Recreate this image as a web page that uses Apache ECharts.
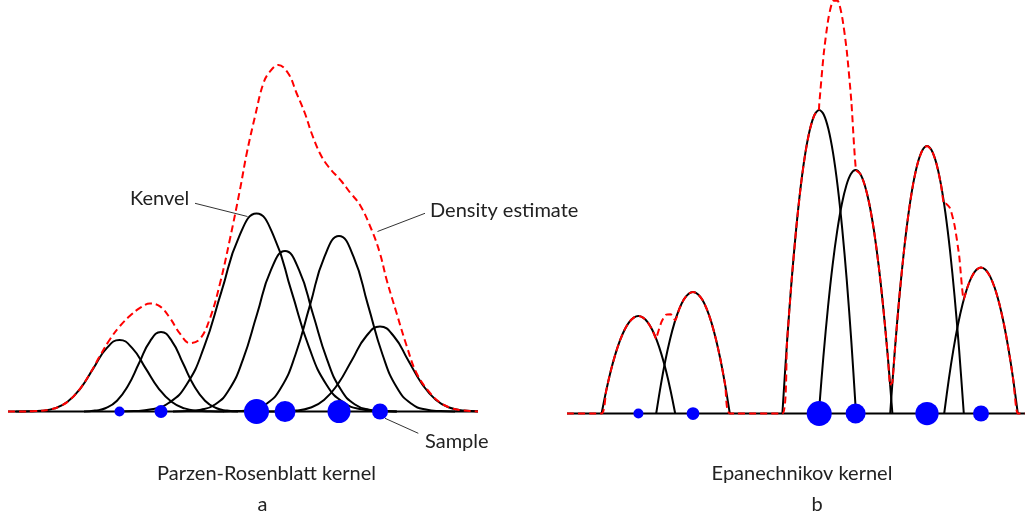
<!DOCTYPE html>
<html><head><meta charset="utf-8">
<script src="https://cdn.jsdelivr.net/npm/echarts@6/dist/echarts.min.js"></script>
<style>html,body{margin:0;padding:0;background:#fff}#c{width:1028px;height:518px}</style>
</head><body><div id="c"></div>
<script>
// ---------- Panel a : Parzen-Rosenblatt (Gaussian) kernels ----------
const parzenSampleX = [119.5, 161, 256.5, 285, 339, 380];
const parzenSampleWeight = [0.4, 0.52, 1.0, 0.84, 0.92, 0.64];
const parzenBaseline = [8, 478];
const parzenKernel1 = [[15.5,0],[28.5,0.2],[41.5,0.8],[54.5,3.1],[67.5,9.7],[80.5,23.2],[93.5,43.4],[106.5,63.1],[119.5,71.5],[132.5,63.1],[145.5,43.4],[158.5,23.2],[171.5,9.7],[184.5,3.1],[197.5,0.8],[210.5,0.2],[223.5,0]];
const parzenKernel2 = [[84,0],[95,0.9],[106,3.5],[117,10.8],[128,25.8],[139,48.2],[150,70.2],[161,79.5],[172,70.2],[183,48.2],[194,25.8],[205,10.8],[216,3.5],[227,0.9],[238,0]];
const parzenKernel3 = [[116.5,0],[134,0.4],[151.5,2.2],[169,8.7],[186.5,26.8],[204,64.3],[221.5,120.1],[239,174.7],[256.5,198],[274,174.7],[291.5,120.1],[309,64.3],[326.5,26.8],[344,8.7],[361.5,2.2],[379,0.4],[396.5,0]];
const parzenKernel4 = [[173,0],[187,0.4],[201,1.8],[215,7.0],[229,21.7],[243,52.1],[257,97.3],[271,141.6],[285,160.5],[299,141.6],[313,97.3],[327,52.1],[341,21.7],[355,7.0],[369,1.8],[383,0.4],[397,0]];
const parzenKernel5 = [[223,0],[237.5,0.4],[252,1.9],[266.5,7.7],[281,23.7],[295.5,57.0],[310,106.4],[324.5,154.9],[339,175.5],[353.5,154.9],[368,106.4],[382.5,57.0],[397,23.7],[411.5,7.7],[426,1.9],[440.5,0.4],[455,0]];
const parzenKernel6 = [[268,0],[282,0.2],[296,0.9],[310,3.7],[324,11.5],[338,27.6],[352,51.6],[366,75.0],[380,85],[394,75.0],[408,51.6],[422,27.6],[436,11.5],[450,3.7],[464,0.9],[478,0.2]];
const parzenDensity = [[8,0],[20,0.05],[35,0.4],[50,2.0],[60,5.2],[70,11.7],[80,22.7],[90,37.9],[100,55.7],[110,72.3],[120,85.5],[130,95.7],[140,103.6],[150,108],[160,105.1],[170,93.4],[180,77.8],[190,68.3],[200,72.5],[210,93.2],[220,128],[230,172.7],[240,222],[246.7,258],[255,295],[263.3,328],[270,340],[278.3,346.5],[288.3,338],[296.7,318],[305,298],[311.7,278],[320,258],[328.3,245],[341.7,230],[350,219],[360,206.5],[371.7,181.5],[380,158],[386.7,131.5],[396.7,98],[406.7,65.5],[416.7,38],[430,18.6],[440,9],[450,3.8],[460,1.4],[470,0.5],[478,0]];

// ---------- Panel b : Epanechnikov kernels ----------
const epanSampleX = [638.4, 693, 819.2, 855.6, 927, 981];
const epanSampleWeight = [0.4, 0.51, 1.0, 0.8, 0.93, 0.64];
const epanBaseline = [567, 1025];
const epanKernel1 = [[601.6,0],[606.2,22.8],[610.8,42.7],[615.4,59.4],[620.0,73.1],[624.6,83.8],[629.2,91.4],[633.8,95.9],[638.4,97.5],[643.0,95.9],[647.6,91.4],[652.2,83.8],[656.8,73.1],[661.4,59.4],[666.0,42.7],[670.6,22.8],[675.2,0]];
const epanKernel2 = [[656.2,0],[660.8,28.4],[665.4,53.2],[670.0,74.0],[674.6,91.1],[679.2,104.4],[683.8,113.9],[688.4,119.6],[693.0,121.5],[697.6,119.6],[702.2,113.9],[706.8,104.4],[711.4,91.1],[716.0,74.0],[720.6,53.2],[725.2,28.4],[729.8,0]];
const epanKernel3 = [[782.4,0],[787.0,71.1],[791.6,132.8],[796.2,184.9],[800.8,227.6],[805.4,260.8],[810.0,284.5],[814.6,298.8],[819.2,303.5],[823.8,298.8],[828.4,284.5],[833.0,260.8],[837.6,227.6],[842.2,184.9],[846.8,132.8],[851.4,71.1],[856.0,0]];
const epanKernel4 = [[818.8,0],[823.4,57.0],[828.0,106.5],[832.6,148.4],[837.2,182.6],[841.8,209.3],[846.4,228.3],[851.0,239.7],[855.6,243.5],[860.2,239.7],[864.8,228.3],[869.4,209.3],[874.0,182.6],[878.6,148.4],[883.2,106.5],[887.8,57.0],[892.4,0]];
const epanKernel5 = [[890.2,0],[894.8,62.7],[899.4,117.0],[904.0,163.0],[908.6,200.6],[913.2,229.9],[917.8,250.8],[922.4,263.3],[927.0,267.5],[931.6,263.3],[936.2,250.8],[940.8,229.9],[945.4,200.6],[950.0,163.0],[954.6,117.0],[959.2,62.7],[963.8,0]];
const epanKernel6 = [[944.2,0],[948.8,34.2],[953.4,63.9],[958.0,89.0],[962.6,109.5],[967.2,125.5],[971.8,136.9],[976.4,143.7],[981.0,146],[985.6,143.7],[990.2,136.9],[994.8,125.5],[999.4,109.5],[1004.0,89.0],[1008.6,63.9],[1013.2,34.2],[1017.8,0]];
const epanDensity = [[567,0],[601.6,0],[606.2,22.8],[610.8,42.7],[615.4,59.4],[620,73.1],[624.6,83.8],[629.2,91.4],[633.8,95.9],[638.4,97.5],[643,95.9],[647.6,91.4],[652.2,83.8],[656.2,74.7],[656.8,77.0],[661.4,91.3],[666,98.8],[670.6,99.3],[675.2,93.1],[679.2,104.4],[683.8,113.9],[688.4,119.6],[693,121.5],[697.6,119.6],[702.2,113.9],[706.8,104.4],[711.4,91.1],[716,74.0],[720.6,53.2],[725.2,28.4],[729.8,0],[782.4,0],[787,71.1],[791.6,132.8],[796.2,184.9],[800.8,227.6],[805.4,260.8],[810,284.5],[814.6,298.8],[818.8,303.5],[819.2,308.8],[823.8,360.5],[828.4,395.0],[833,412.5],[837.6,412.8],[842.2,396.1],[846.8,362.4],[851.4,311.4],[856,243.5],[860.2,239.7],[864.8,228.3],[869.4,209.3],[874,182.6],[878.6,148.4],[883.2,106.5],[887.8,57.0],[890.2,28.2],[891.3,30.1],[892.4,31.0],[894.8,62.7],[899.4,117.0],[904,163.0],[908.6,200.6],[913.2,229.9],[917.8,250.8],[922.4,263.3],[927,267.5],[931.6,263.3],[936.2,250.8],[940.8,229.9],[944.2,209.1],[945.4,210.0],[950,205.4],[954.6,187.9],[959.2,157.5],[963.8,114.1],[967.2,125.5],[971.8,136.9],[976.4,143.7],[981,146],[985.6,143.7],[990.2,136.9],[994.8,125.5],[999.4,109.5],[1004,89.0],[1008.6,63.9],[1013.2,34.2],[1017.8,0],[1025,0]];

// annotation leader lines (data coordinates of panel a)
const kenvelLeader = [[195, 208.2], [247.5, 195]];
const densityLeader = [[425, 198.2], [377.5, 180]];
const sampleLeader = [[385, -6.8], [418.3, -21.8]];

const FONT = 'Lato, "Open Sans", sans-serif';
const TEXT_COLOR = '#222';

function lineSeries(idx, data, color, width, dashed, smooth, z) {
  return {
    type: 'line', xAxisIndex: idx, yAxisIndex: idx, data: data,
    symbol: 'none', showSymbol: false, smooth: smooth, clip: false, silent: true, z: z,
    lineStyle: { color: color, width: width, type: dashed ? [7, 4] : 'solid', cap: 'butt', join: 'round' }
  };
}
function dotSeries(idx, xs, weights) {
  return {
    type: 'scatter', xAxisIndex: idx, yAxisIndex: idx, clip: false, silent: true, z: 10,
    data: xs.map(x => [x, 0]),
    symbol: 'circle',
    symbolSize: (v, p) => 25 * weights[p.dataIndex],
    itemStyle: { color: '#0000FF', opacity: 1 }
  };
}

const series = [];
// panel a
series.push(lineSeries(0, parzenBaseline.map(x => [x, 0]), '#000', 2, false, false, 1));
[parzenKernel1, parzenKernel2, parzenKernel3, parzenKernel4, parzenKernel5, parzenKernel6]
  .forEach(k => series.push(lineSeries(0, k, '#000', 2, false, 0.5, 2)));
series.push(lineSeries(0, parzenDensity, '#FF0000', 2, true, 0.4, 3));
series.push(dotSeries(0, parzenSampleX, parzenSampleWeight));
[kenvelLeader, densityLeader, sampleLeader].forEach(l => series.push(lineSeries(0, l, '#333', 1, false, false, 4)));
// panel b
series.push(lineSeries(1, epanBaseline.map(x => [x, 0]), '#000', 2, false, false, 1));
[epanKernel1, epanKernel2, epanKernel3, epanKernel4, epanKernel5, epanKernel6]
  .forEach(k => series.push(lineSeries(1, k, '#000', 2, false, 0.3, 2)));
series.push(lineSeries(1, epanDensity, '#FF0000', 2, true, 0.2, 3));
series.push(dotSeries(1, epanSampleX, epanSampleWeight));

function txt(text, x, y, align) {
  return { type: 'text', x: x, y: y, silent: true, z: 20,
    style: { text: text, font: '20px ' + FONT, fill: TEXT_COLOR, textAlign: align, textVerticalAlign: 'middle' } };
}

const chart = echarts.init(document.getElementById('c'), null, { renderer: 'canvas' });
chart.setOption({
  animation: false,
  backgroundColor: '#fff',
  grid: [
    { left: 0, top: 0, width: 480, height: 518 },
    { left: 540, top: 0, width: 488, height: 518 }
  ],
  xAxis: [
    { type: 'value', gridIndex: 0, min: 0, max: 480, show: false },
    { type: 'value', gridIndex: 1, min: 540, max: 1028, show: false }
  ],
  yAxis: [
    { type: 'value', gridIndex: 0, min: -106.5, max: 411.5, show: false },
    { type: 'value', gridIndex: 1, min: -104.5, max: 413.5, show: false }
  ],
  series: series,
  graphic: [
    txt('Kenvel', 130, 198.5, 'left'),
    txt('Density estimate', 430, 210.5, 'left'),
    txt('Sample', 425, 442, 'left'),
    txt('Parzen-Rosenblatt kernel', 266.5, 474, 'center'),
    txt('a', 262.5, 505, 'center'),
    txt('Epanechnikov kernel', 802, 474, 'center'),
    txt('b', 817, 505, 'center')
  ]
});
</script></body></html>
